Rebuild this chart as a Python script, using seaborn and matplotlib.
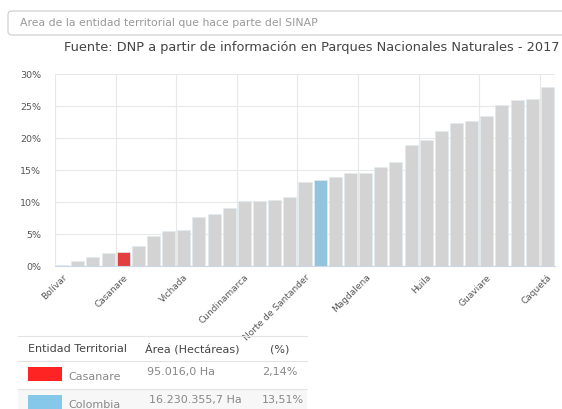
import matplotlib
matplotlib.use("Agg")
import matplotlib.pyplot as plt
import seaborn as sns
from matplotlib.patches import FancyBboxPatch, Rectangle

# porcentaje del area de cada entidad que hace parte del SINAP (ordenado)
valores = [0.1, 0.85, 1.4, 2.0, 2.14, 3.1, 4.75, 5.5, 5.6, 7.6, 8.1,
           9.1, 10.1, 10.1, 10.3, 10.8, 13.1, 13.51, 13.9, 14.5, 14.5,
           15.4, 16.2, 18.9, 19.7, 21.1, 22.4, 22.7, 23.4, 25.1, 25.9,
           26.1, 28.0]
etiquetas = {0: "Bolívar", 4: "Casanare", 8: "Vichada", 12: "Cundinamarca",
             16: "Norte de Santander", 20: "Magdalena", 24: "Huila",
             28: "Guaviare", 32: "Caquetá"}
destacados = {4: "#ff2424", 17: "#86c8ea"}

tabla_entidad = ["Casanare", "Colombia"]
tabla_area = ["95.016,0 Ha", "16.230.355,7 Ha"]
tabla_pct = ["2,14%", "13,51%"]
tabla_color = ["#ff2424", "#86c8ea"]

sns.set_style("white")
plt.rcParams["font.family"] = ["DejaVu Sans"]

W, H = 562, 409
fig = plt.figure(figsize=(W / 100, H / 100), dpi=100)


def fx(x):
    return x / W


def fy(y):
    return 1 - y / H


ax = fig.add_axes([fx(55), fy(266), fx(555) - fx(55), fy(74) - fy(266)])

pos = list(range(len(valores)))
colores = [destacados.get(i, "#d3d3d3") for i in pos]
sns.barplot(x=pos, y=valores, hue=pos, palette=colores, legend=False,
            width=0.86, edgecolor="#e2ecf0", linewidth=0.5, ax=ax)

ax.set_ylim(0, 30)
ax.set_xlim(-0.5, len(valores) - 0.5)
ax.set_yticks(range(0, 31, 5))
ax.set_yticklabels([f"{v}%" for v in range(0, 31, 5)], fontsize=6.8, color="#555555")
ax.yaxis.grid(True, color="#e8e8e8", linewidth=0.8)
for k in range(0, len(valores), 4):
    ax.axvline(k - 0.5, color="#e8e8e8", linewidth=0.8, zorder=0)
ax.set_axisbelow(True)
ax.set_xticks(list(etiquetas.keys()))
ax.set_xticklabels(list(etiquetas.values()), rotation=45, ha="right",
                   rotation_mode="anchor", fontsize=6.5, color="#555555")
ax.tick_params(axis="x", length=3, color="#ccd6eb", pad=2)
ax.tick_params(axis="y", length=0, pad=10)
for s in ["top", "right", "left"]:
    ax.spines[s].set_visible(False)
ax.spines["bottom"].set_color("#ccd6eb")
ax.set_xlabel("")
ax.set_ylabel("")

# cuadro superior
caja = FancyBboxPatch((fx(8), fy(35)), fx(600) - fx(8), fy(11) - fy(35),
                      boxstyle="round,pad=0,rounding_size=0.008",
                      transform=fig.transFigure, facecolor="white",
                      edgecolor="#cccccc", linewidth=0.8)
fig.patches.append(caja)
fig.text(fx(20), fy(23), "Area de la entidad territorial que hace parte del SINAP",
         fontsize=7.8, color="#999999", va="center")
fig.text(fx(560), fy(47), "Fuente: DNP a partir de información en Parques Nacionales Naturales - 2017",
         fontsize=9.3, color="#444444", va="center", ha="right")

# tabla
lineas = [336, 361, 389]
for y in lineas:
    fig.add_artist(plt.Line2D([fx(18), fx(307)], [fy(y), fy(y)], color="#e3e3e3",
                              linewidth=0.8, transform=fig.transFigure))
fig.patches.append(Rectangle((fx(18), fy(409)), fx(307) - fx(18), fy(389) - fy(409),
                             transform=fig.transFigure, facecolor="#f7f7f7",
                             edgecolor="none", zorder=-1))
hy = 349
fig.text(fx(28), fy(hy), "Entidad Territorial", fontsize=8, color="#444444", va="center")
fig.text(fx(145), fy(hy), "Área (Hectáreas)", fontsize=8, color="#444444", va="center")
fig.text(fx(270), fy(hy), "(%)", fontsize=8, color="#444444", va="center")
for i, (ent, area, pct, col) in enumerate(zip(tabla_entidad, tabla_area, tabla_pct, tabla_color)):
    y0 = 367 + i * 28
    fig.patches.append(Rectangle((fx(28), fy(y0 + 14)), fx(62) - fx(28), fy(y0) - fy(y0 + 14),
                                 transform=fig.transFigure, facecolor=col, edgecolor="none"))
    fig.text(fx(68), fy(y0 + 10), ent, fontsize=8, color="#888888", va="center")
    fig.text(fx(147 + i * 2), fy(y0 + 5), area, fontsize=8, color="#888888", va="center")
    fig.text(fx(262), fy(y0 + 5), pct, fontsize=8, color="#888888", va="center")

fig.savefig("out.png", dpi=100)
